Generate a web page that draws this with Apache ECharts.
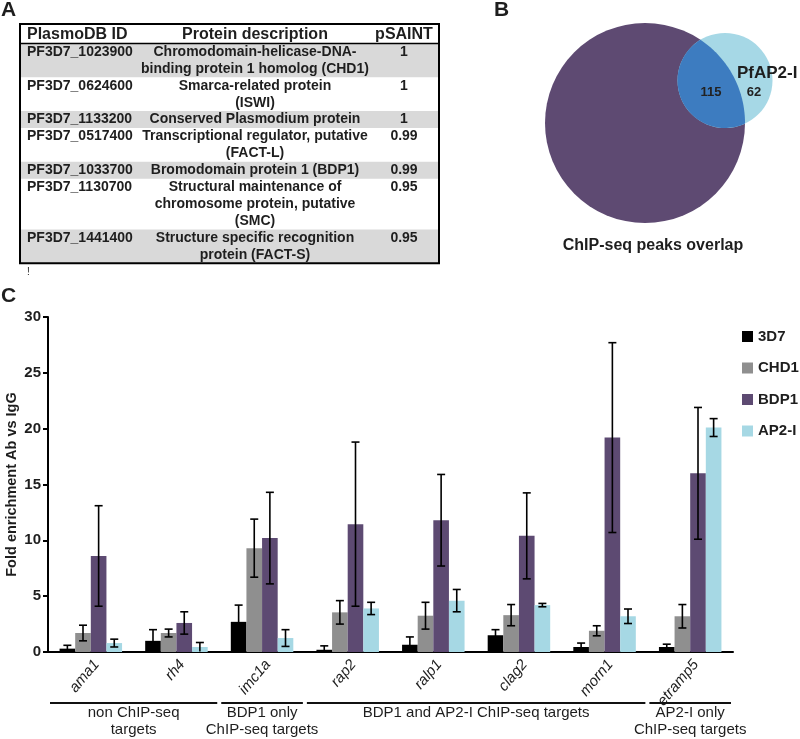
<!DOCTYPE html>
<html><head><meta charset="utf-8">
<script src="https://cdn.jsdelivr.net/npm/echarts@6/dist/echarts.min.js"></script>
<style>html,body{margin:0;padding:0;background:#fff}#c{width:800px;height:739px}</style>
</head><body><div id="c"></div>
<script>
// ---------- DATA ----------
const genes = ['ama1','rh4','imc1a','rap2','ralp1','clag2','morn1','etramp5'];
const seriesNames = ['3D7','CHD1','BDP1','AP2-I'];
const mean3D7 = [0.3, 1.0, 2.7, 0.2, 0.65, 1.5, 0.45, 0.45];
const err3D7  = [0.3, 1.0, 1.5, 0.35, 0.7, 0.5, 0.35, 0.25];
const meanCHD1 = [1.7, 1.7, 9.3, 3.55, 3.25, 3.3, 1.9, 3.2];
const errCHD1  = [0.7, 0.35, 2.6, 1.05, 1.2, 0.95, 0.45, 1.05];
const meanBDP1 = [8.6, 2.6, 10.2, 11.45, 11.8, 10.4, 19.2, 16.0];
const errBDP1  = [4.5, 1.0, 4.1, 7.35, 4.1, 3.85, 8.5, 5.9];
const meanAP2I = [0.8, 0.45, 1.25, 3.9, 4.6, 4.2, 3.2, 20.1];
const errAP2I  = [0.35, 0.4, 0.75, 0.55, 1.0, 0.15, 0.65, 0.8];
const yAxisTitle = 'Fold enrichment Ab vs IgG';

const groupLabels = ['non ChIP-seq\ntargets', 'BDP1 only\nChIP-seq targets', 'BDP1 and AP2-I ChIP-seq targets', 'AP2-I only\nChIP-seq targets'];
const groupFirst = [0, 2, 3, 7];
const groupLast  = [1, 2, 6, 7];

const tableHeader = ['PlasmoDB ID', 'Protein description', 'pSAINT'];
const plasmoIds = ['PF3D7_1023900','PF3D7_0624600','PF3D7_1133200','PF3D7_0517400','PF3D7_1033700','PF3D7_1130700','PF3D7_1441400'];
const descriptions = [
  ['Chromodomain-helicase-DNA-', 'binding protein 1 homolog (CHD1)'],
  ['Smarca-related protein', '(ISWI)'],
  ['Conserved Plasmodium protein'],
  ['Transcriptional regulator, putative', '(FACT-L)'],
  ['Bromodomain protein 1 (BDP1)'],
  ['Structural maintenance of', 'chromosome protein, putative', '(SMC)'],
  ['Structure specific recognition', 'protein (FACT-S)']
];
const pSaint = ['1','1','1','0.99','0.99','0.95','0.95'];

const vennSetLabel = 'PfAP2-I';
const vennTitle = 'ChIP-seq peaks overlap';
const vennOverlap = 115;
const vennOnlyAP2 = 62;

// ---------- STYLE ----------
const colors = ['#000000', '#8f8f8f', '#5d4a72', '#a6d8e4'];
const FF = '"Liberation Sans", Arial, sans-serif';
const TXT = '#1e1e1e';
const CAT_GAP = 0.27;

const means = [mean3D7, meanCHD1, meanBDP1, meanAP2I];
const errs = [err3D7, errCHD1, errBDP1, errAP2I];

const errData = [];
means.forEach((m, s) => m.forEach((v, i) => errData.push([i, Math.max(v - errs[s][i], 0), v + errs[s][i], s])));

const chart = echarts.init(document.getElementById('c'), null, {renderer: 'canvas'});

const barSeries = seriesNames.map((n, s) => ({
  name: n, type: 'bar', data: means[s],
  barGap: '0%', barCategoryGap: (CAT_GAP * 100) + '%',
  itemStyle: {color: colors[s]}, z: 2
}));

chart.setOption({
  animation: false,
  backgroundColor: '#fff',
  grid: {left: 48, right: 67, top: 317, bottom: 87, containLabel: false, outerBoundsMode: 'none'},
  legend: {
    data: seriesNames, orient: 'vertical', left: 742, top: 329,
    itemWidth: 11, itemHeight: 11, itemGap: 16.5, padding: 0,
    icon: 'rect',
    textStyle: {fontFamily: FF, fontWeight: 'bold', fontSize: 15, color: TXT, lineHeight: 15}
  },
  xAxis: {
    type: 'category', data: genes,
    axisLine: {lineStyle: {color: '#000', width: 2}},
    axisTick: {length: 6, lineStyle: {color: '#000', width: 2}},
    axisLabel: {rotate: 50, interval: 0, fontStyle: 'italic', fontFamily: FF, fontSize: 15, color: TXT, margin: 5, verticalAlign: 'top'}
  },
  yAxis: {
    type: 'value', min: 0, max: 30, interval: 5,
    name: yAxisTitle, nameLocation: 'middle', nameGap: 29, nameMoveOverlap: false,
    nameTextStyle: {fontFamily: FF, fontSize: 14.5, fontWeight: 'bold', color: TXT},
    axisLine: {show: true, lineStyle: {color: '#000', width: 2}},
    axisTick: {show: true, length: 5, lineStyle: {color: '#000', width: 2}},
    axisLabel: {fontFamily: FF, fontWeight: 'bold', fontSize: 15, color: TXT, margin: 7},
    splitLine: {show: false}
  },
  series: barSeries.concat([{
    type: 'custom', name: 'err', z: 5,
    encode: {x: 0, y: [1, 2]},
    data: errData,
    renderItem: function (params, api) {
      const ci = api.value(0), lo = api.value(1), hi = api.value(2), s = api.value(3);
      const band = api.size([1, 0])[0];
      const bw = band * (1 - CAT_GAP) / 4;
      const cx = api.coord([ci, 0])[0] + (s - 1.5) * bw;
      const yLo = api.coord([ci, lo])[1], yHi = api.coord([ci, hi])[1];
      const cap = 4, st = {stroke: '#000', lineWidth: 1.6};
      const ch = [
        {type: 'line', shape: {x1: cx, y1: yLo, x2: cx, y2: yHi}, style: st},
        {type: 'line', shape: {x1: cx - cap, y1: yHi, x2: cx + cap, y2: yHi}, style: st}
      ];
      if (lo > 0.05) ch.push({type: 'line', shape: {x1: cx - cap, y1: yLo, x2: cx + cap, y2: yLo}, style: st});
      return {type: 'group', children: ch};
    }
  }])
});

// ---------- GRAPHIC (table, venn, group labels) ----------
const g = [];
function txt(x, y, text, o) {
  o = o || {};
  const style = {
    text: text, fontFamily: FF, fontSize: o.size || 14, fontWeight: o.weight || 'bold',
    fill: o.color || TXT, align: o.align || 'left', textAlign: o.align || 'left',
    verticalAlign: o.va || 'middle', textVerticalAlign: o.va || 'middle'
  };
  if (o.lh) style.lineHeight = o.lh;
  g.push({type: 'text', x: x, y: y, z: o.z || 20, silent: true, style: style});
}

// Panel letters
txt(1, 10, 'A', {size: 21});
txt(494, 10, 'B', {size: 21});
txt(1, 296, 'C', {size: 21});

// Table
const T = {left: 20, right: 439, top: 24, headerH: 19.5, lineH: 16.9, idX: 27, descX: 255, valX: 404};
let yCur = T.top + T.headerH;
const rowTops = [];
descriptions.forEach((d, i) => {
  const h = d.length * T.lineH;
  rowTops.push([yCur, h]);
  if (i % 2 === 0) g.push({type: 'rect', z: 10, shape: {x: T.left, y: yCur, width: T.right - T.left, height: h}, style: {fill: '#d9d9d9'}});
  yCur += h;
});
const tableBottom = yCur;
txt(T.idX, T.top + T.headerH / 2 + 0.5, tableHeader[0], {size: 16});
txt(T.descX, T.top + T.headerH / 2 + 0.5, tableHeader[1], {size: 16, align: 'center'});
txt(T.valX, T.top + T.headerH / 2 + 0.5, tableHeader[2], {size: 16, align: 'center'});
descriptions.forEach((d, i) => {
  const top = rowTops[i][0];
  txt(T.idX, top + T.lineH / 2, plasmoIds[i]);
  d.forEach((line, k) => txt(T.descX, top + (k + 0.5) * T.lineH, line, {align: 'center'}));
  txt(T.valX, top + T.lineH / 2, pSaint[i], {align: 'center'});
});
g.push({type: 'line', z: 25, shape: {x1: T.left, y1: T.top + T.headerH, x2: T.right, y2: T.top + T.headerH}, style: {stroke: '#000', lineWidth: 1.5}});
g.push({type: 'rect', z: 25, shape: {x: T.left, y: T.top, width: T.right - T.left, height: tableBottom - T.top}, style: {fill: 'none', stroke: '#000', lineWidth: 2}});
txt(27, tableBottom + 9, '!', {size: 10, weight: 'normal'});

// Venn
const V1 = {x: 645, y: 123, r: 100}, V2 = {x: 725, y: 80.5, r: 47.5};
g.push({type: 'circle', z: 10, shape: {cx: V1.x, cy: V1.y, r: V1.r}, style: {fill: '#5e4a72'}});
g.push({type: 'circle', z: 10, shape: {cx: V2.x, cy: V2.y, r: V2.r}, style: {fill: '#a6d8e6'}});
(function () {
  const dx = V2.x - V1.x, dy = V2.y - V1.y, d = Math.hypot(dx, dy);
  const a = (d * d + V1.r * V1.r - V2.r * V2.r) / (2 * d);
  const h = Math.sqrt(V1.r * V1.r - a * a);
  const ux = dx / d, uy = dy / d, px = V1.x + a * ux, py = V1.y + a * uy;
  let A = [px - h * uy, py + h * ux], B = [px + h * uy, py - h * ux];
  if (A[1] > B[1]) { const t = A; A = B; B = t; }
  const pts = [];
  function arc(C, from, to) {
    let a0 = Math.atan2(from[1] - C.y, from[0] - C.x);
    let a1 = Math.atan2(to[1] - C.y, to[0] - C.x);
    while (a1 < a0) a1 += Math.PI * 2;
    const n = 60;
    for (let i = 0; i <= n; i++) {
      const t = a0 + (a1 - a0) * i / n;
      pts.push([C.x + C.r * Math.cos(t), C.y + C.r * Math.sin(t)]);
    }
  }
  arc(V1, A, B);
  arc(V2, B, A);
  g.push({type: 'polygon', z: 11, shape: {points: pts}, style: {fill: '#3d7cc0'}});
})();
txt(737, 73, vennSetLabel, {size: 17});
txt(711, 92, String(vennOverlap), {size: 13, align: 'center', color: '#222'});
txt(754, 92, String(vennOnlyAP2), {size: 13, align: 'center', color: '#222'});
txt(653, 246, vennTitle, {size: 16, align: 'center'});

// Group annotations under x axis
const cxp = i => chart.convertToPixel({xAxisIndex: 0}, i);
const band = cxp(1) - cxp(0);
const y0 = chart.convertToPixel({yAxisIndex: 0}, 0);
groupLabels.forEach((lab, k) => {
  const x1 = cxp(groupFirst[k]) - band / 2 + 2, x2 = cxp(groupLast[k]) + band / 2 - 2;
  g.push({type: 'line', z: 20, shape: {x1: x1, y1: y0 + 51, x2: x2, y2: y0 + 51}, style: {stroke: '#111', lineWidth: 2}});
  txt((x1 + x2) / 2, y0 + 52.5, lab, {size: 15, weight: 'normal', align: 'center', va: 'top', lh: 17});
});

chart.setOption({graphic: {elements: g}});
</script>
</body></html>
